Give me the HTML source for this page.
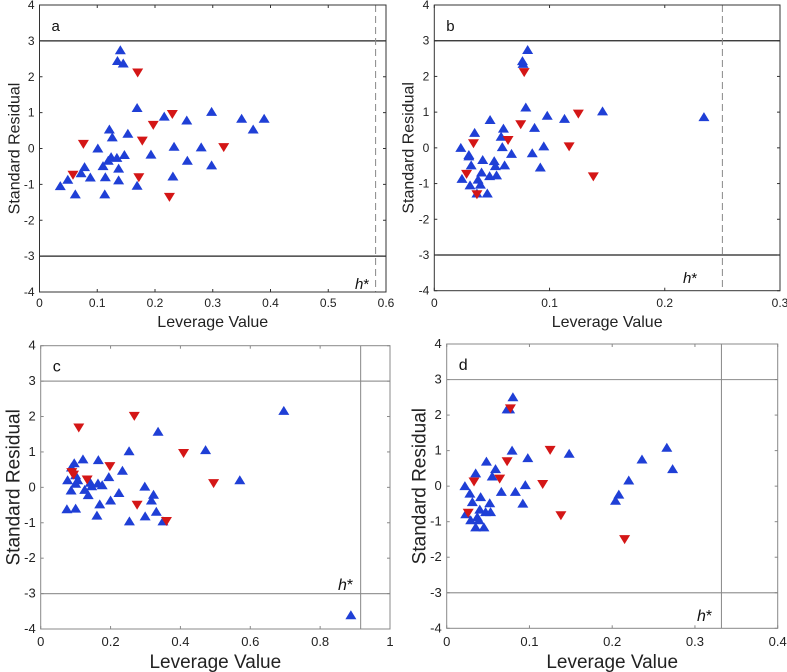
<!DOCTYPE html>
<html><head><meta charset="utf-8"><style>
html,body{margin:0;padding:0;background:#fff;}
svg{display:block;font-family:"Liberation Sans",sans-serif;}
</style></head><body>
<svg id="chart" width="787" height="672" viewBox="0 0 787 672" xmlns="http://www.w3.org/2000/svg"></svg>
<script>
// Panel a data
const aBlueX=[0.14,0.135,0.145,0.169,0.216,0.255,0.298,0.35,0.389,0.37,0.121,0.126,0.153,0.101,0.233,0.28,0.193,0.147,0.256,0.298,0.124,0.134,0.119,0.11,0.137,0.078,0.072,0.088,0.114,0.137,0.231,0.169,0.049,0.036,0.062,0.113];
const aBlueY=[2.74,2.44,2.37,1.13,0.89,0.78,1.02,0.83,0.83,0.53,0.53,0.31,0.41,0.0,0.05,0.03,-0.17,-0.18,-0.34,-0.47,-0.24,-0.26,-0.34,-0.49,-0.56,-0.52,-0.69,-0.81,-0.8,-0.89,-0.78,-1.04,-0.87,-1.05,-1.28,-1.28];
const aRedX=[0.17,0.23,0.197,0.178,0.076,0.319,0.058,0.172,0.225];
const aRedY=[2.12,0.96,0.66,0.22,0.13,0.04,-0.73,-0.8,-1.35];
// Panel b data
const bBlueX=[0.081,0.0765,0.077,0.0794,0.0484,0.098,0.113,0.146,0.234,0.06,0.087,0.058,0.035,0.023,0.059,0.095,0.03,0.03,0.067,0.085,0.042,0.052,0.032,0.053,0.061,0.092,0.041,0.048,0.054,0.024,0.038,0.04,0.031,0.046,0.037];
const bBlueY=[2.74,2.43,2.35,1.13,0.78,0.9,0.81,1.02,0.86,0.54,0.56,0.31,0.42,0.0,0.02,0.04,-0.2,-0.24,-0.17,-0.15,-0.34,-0.37,-0.49,-0.51,-0.49,-0.55,-0.69,-0.79,-0.77,-0.87,-0.89,-1.03,-1.05,-1.28,-1.28];
const bRedX=[0.078,0.125,0.075,0.064,0.034,0.117,0.028,0.138,0.037];
const bRedY=[2.12,0.96,0.66,0.22,0.13,0.04,-0.73,-0.8,-1.3];
// Panel c data
const cBlueX=[0.696,0.336,0.253,0.472,0.57,0.888,0.121,0.165,0.096,0.088,0.234,0.195,0.1,0.106,0.077,0.1,0.142,0.164,0.176,0.146,0.298,0.126,0.087,0.224,0.136,0.323,0.317,0.2,0.169,0.331,0.075,0.1,0.161,0.299,0.254,0.35];
const cBlueY=[2.16,1.57,1.02,1.05,0.2,-3.61,0.79,0.77,0.68,0.56,0.47,0.29,0.34,0.2,0.2,0.1,0.13,0.11,0.06,0.03,0.02,-0.07,-0.09,-0.16,-0.22,-0.21,-0.37,-0.37,-0.48,-0.69,-0.62,-0.6,-0.8,-0.82,-0.96,-0.96];
const cRedX=[0.268,0.109,0.409,0.198,0.089,0.133,0.495,0.276,0.36,0.094];
const cRedY=[2.02,1.69,0.97,0.6,0.43,0.22,0.12,-0.49,-0.95,0.36];
// Panel d data
const dBlueX=[0.08,0.073,0.076,0.079,0.148,0.266,0.236,0.273,0.048,0.098,0.059,0.055,0.035,0.22,0.022,0.095,0.208,0.204,0.066,0.083,0.028,0.031,0.041,0.092,0.052,0.04,0.047,0.053,0.023,0.037,0.029,0.039,0.035,0.045];
const dBlueY=[2.5,2.16,2.16,1.0,0.91,1.08,0.75,0.48,0.69,0.79,0.48,0.27,0.36,0.16,0.0,0.03,-0.24,-0.41,-0.16,-0.16,-0.21,-0.45,-0.31,-0.49,-0.48,-0.66,-0.73,-0.73,-0.79,-0.87,-0.96,-0.96,-1.16,-1.16];
const dRedX=[0.077,0.125,0.073,0.064,0.033,0.116,0.026,0.138,0.215];
const dRedY=[2.19,1.02,0.7,0.21,0.13,0.06,-0.75,-0.82,-1.49];
// axes
const aXTicks=[0,0.1,0.2,0.3,0.4,0.5,0.6];
const bXTicks=[0,0.1,0.2,0.3];
const cXTicks=[0,0.2,0.4,0.6,0.8,1];
const dXTicks=[0,0.1,0.2,0.3,0.4];
const yTicks=[-4,-3,-2,-1,0,1,2,3,4];
const hStar=[0.582,0.25,0.916,0.332];

const NS="http://www.w3.org/2000/svg";
const svg=document.getElementById('chart');
function mk(tag,attrs,parent){const e=document.createElementNS(NS,tag);for(const k in attrs)e.setAttribute(k,attrs[k]);(parent||svg).appendChild(e);return e;}

const panels=[
 {id:'a',L:39.5,R:386,T:5,B:292,xmax:0.6,ticks:aXTicks,bx:aBlueX,by:aBlueY,rx:aRedX,ry:aRedY,h:hStar[0],dark:true,fs:12,tfs:16,ytx:15,xty:327,tly:307,hx:355,hy:289},
 {id:'b',L:434.3,R:780,T:5,B:290.7,xmax:0.3,ticks:bXTicks,bx:bBlueX,by:bBlueY,rx:bRedX,ry:bRedY,h:hStar[1],dark:true,fs:12,tfs:16,ytx:409,xty:327,tly:307,hx:683,hy:283},
 {id:'c',L:40.7,R:390,T:345.7,B:629,xmax:1,ticks:cXTicks,bx:cBlueX,by:cBlueY,rx:cRedX,ry:cRedY,h:hStar[2],dark:false,fs:13,tfs:19,ytx:14,xty:668,tly:646,hx:338,hy:590},
 {id:'d',L:446.7,R:777.7,T:344,B:628.3,xmax:0.4,ticks:dXTicks,bx:dBlueX,by:dBlueY,rx:dRedX,ry:dRedY,h:hStar[3],dark:false,fs:13,tfs:19,ytx:420,xty:668,tly:646,hx:697,hy:621}
];

panels.forEach(p=>{
 const g=mk('g',{});
 
 
 const sx=v=>p.L+(v/p.xmax)*(p.R-p.L);
 const sy=v=>p.B-((v+4)/8)*(p.B-p.T);
 const boxCol=p.dark?'#333':'#888';
 const lineCol=p.dark?'#222':'#999';
 [3,-3].forEach(v=>{
  const l=mk('line',{x1:p.L,x2:p.R,y1:sy(v),y2:sy(v),stroke:lineCol,'stroke-width':1.2},g);
  
  
 });
 const hl=mk('line',{x1:sx(p.h),x2:sx(p.h),y1:p.T,y2:p.B,stroke:'#888','stroke-width':1,'stroke-dasharray':p.dark?'7,4':'none'},g);
 
 
 const bx=mk('rect',{x:p.L,y:p.T,width:p.R-p.L,height:p.B-p.T,fill:'none',stroke:boxCol,'stroke-width':1},g);
 
 
 p.ticks.forEach(v=>{
  const x=sx(v);
  mk('line',{x1:x,x2:x,y1:p.B,y2:p.B-3,stroke:boxCol},g);
  mk('line',{x1:x,x2:x,y1:p.T,y2:p.T+3,stroke:boxCol},g);
  const t=mk('text',{x:x,y:p.tly,'font-size':p.fs,'text-anchor':'middle',fill:'#222'},g);
  t.textContent=String(v);
  
  
 });
 yTicks.forEach(v=>{
  const y=sy(v);
  mk('line',{x1:p.L,x2:p.L+3,y1:y,y2:y,stroke:boxCol},g);
  mk('line',{x1:p.R,x2:p.R-3,y1:y,y2:y,stroke:boxCol},g);
  const t=mk('text',{x:p.L-5,y:y+4,'font-size':p.fs,'text-anchor':'end',fill:'#222'},g);
  t.textContent=String(v);
  
  
 });
 const xt=mk('text',{x:(p.L+p.R)/2,y:p.xty,'font-size':p.tfs,'text-anchor':'middle',fill:'#222'},g);
 xt.textContent='Leverage Value';
 
 
 const ycy=(p.T+p.B)/2;
 const yt=mk('text',{x:p.ytx,y:ycy,'font-size':p.tfs,'text-anchor':'middle',fill:'#222','dominant-baseline':'central',transform:`rotate(-90 ${p.ytx} ${ycy})`},g);
 yt.textContent='Standard Residual';
 
 
 const pl=mk('text',{x:p.L+12,y:p.T+26,'font-size':p.dark?15:16,fill:'#111'},g);
 pl.textContent=p.id;
 
 
 const ht=mk('text',{x:p.hx,y:p.hy,'font-size':p.dark?15:16,fill:'#111'},g);
 ht.innerHTML='<tspan font-style="italic">h</tspan>*';
 
 
 p.bx.forEach((v,i)=>{
  const x=sx(v),y=sy(p.by[i]);
  const m=mk('polygon',{points:`${x-5.5},${y+4} ${x+5.5},${y+4} ${x},${y-5}`,fill:'#1f3fd6'},g);
  
  
 });
 p.rx.forEach((v,i)=>{
  const x=sx(v),y=sy(p.ry[i]);
  const m=mk('polygon',{points:`${x-5.5},${y-4} ${x+5.5},${y-4} ${x},${y+5}`,fill:'#d41616'},g);
  
  
 });
});
</script>
</body></html>
